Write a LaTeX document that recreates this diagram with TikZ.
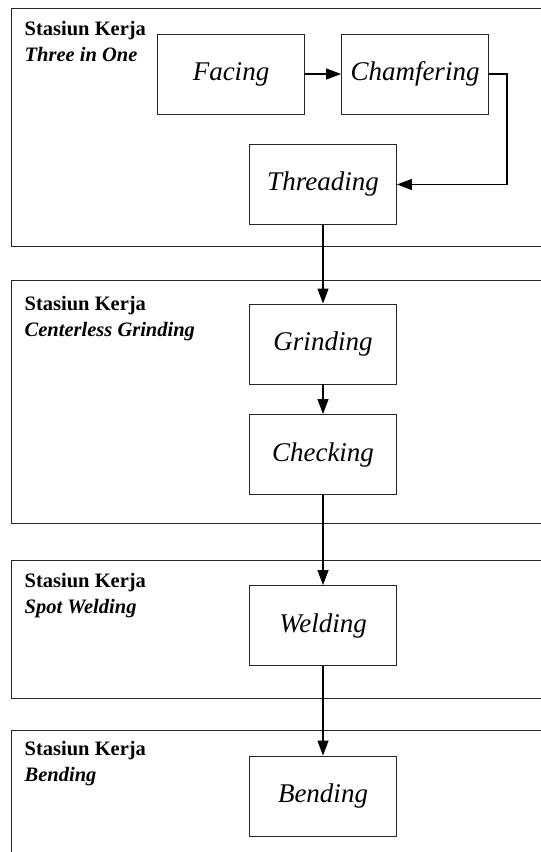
\documentclass[tikz,border=0pt]{standalone}
\usepackage{fontspec}
\setmainfont{Liberation Serif}
\usetikzlibrary{arrows.meta}
\begin{document}
\begin{tikzpicture}[x=1pt,y=-1pt,
  station/.style={draw=black!85,line width=0.9pt},
  proc/.style={draw=black!85,line width=0.9pt,minimum width=147pt,minimum height=80pt,inner sep=0pt,font=\fontsize{27}{31}\selectfont\itshape},
  lbla/.style={anchor=base west,inner sep=0pt,font=\fontsize{20.5}{24}\selectfont\bfseries},
  lblb/.style={anchor=base west,inner sep=0pt,font=\fontsize{20.5}{24}\selectfont\bfseries\itshape},
  flow/.style={draw=black,line width=1.2pt,-{Triangle[length=15pt,width=11pt]}}]
\useasboundingbox (0,0) rectangle (541,852);
\clip (0,0) rectangle (541,852);
% stations
\draw[station] (11,8) rectangle (560,246.5);
\draw[station] (11,280) rectangle (560,523);
\draw[station] (11,560) rectangle (560,698);
\draw[station] (11,730) rectangle (560,880);
% labels
\node[lbla] (s1a) at (24.5,35) {Stasiun Kerja};
\node[lblb] (s1b) at (24.5,61) {Three in One};
\node[lbla] (s2a) at (24.5,310.5) {Stasiun Kerja};
\node[lblb] (s2b) at (24.5,336.5) {Centerless Grinding};
\node[lbla] (s3a) at (24.5,587) {Stasiun Kerja};
\node[lblb] (s3b) at (24.5,613) {Spot Welding};
\node[lbla] (s4a) at (24.5,755.5) {Stasiun Kerja};
\node[lblb] (s4b) at (24.5,781) {Bending};
% processes
\node[proc] (fac) at (231,74) {Facing};
\node[proc] (cha) at (415,74) {Chamfering};
\node[proc] (thr) at (323,184.5) {Threading};
\node[proc] (gri) at (323,344) {Grinding};
\node[proc] (che) at (323,454.5) {Checking};
\node[proc] (wel) at (323,625.5) {Welding};
\node[proc] (ben) at (323,796) {Bending};
% connectors
\coordinate (c1) at (507,74);
\coordinate (c2) at (507,184.5);
\draw[flow] (fac) -- (cha);
\draw[flow] (cha.east) -- (c1) -- (c2) -- (thr.east);
\draw[flow] (thr) -- (gri);
\draw[flow] (gri) -- (che);
\draw[flow] (che) -- (wel);
\draw[flow] (wel) -- (ben);
\end{tikzpicture}
\end{document}
